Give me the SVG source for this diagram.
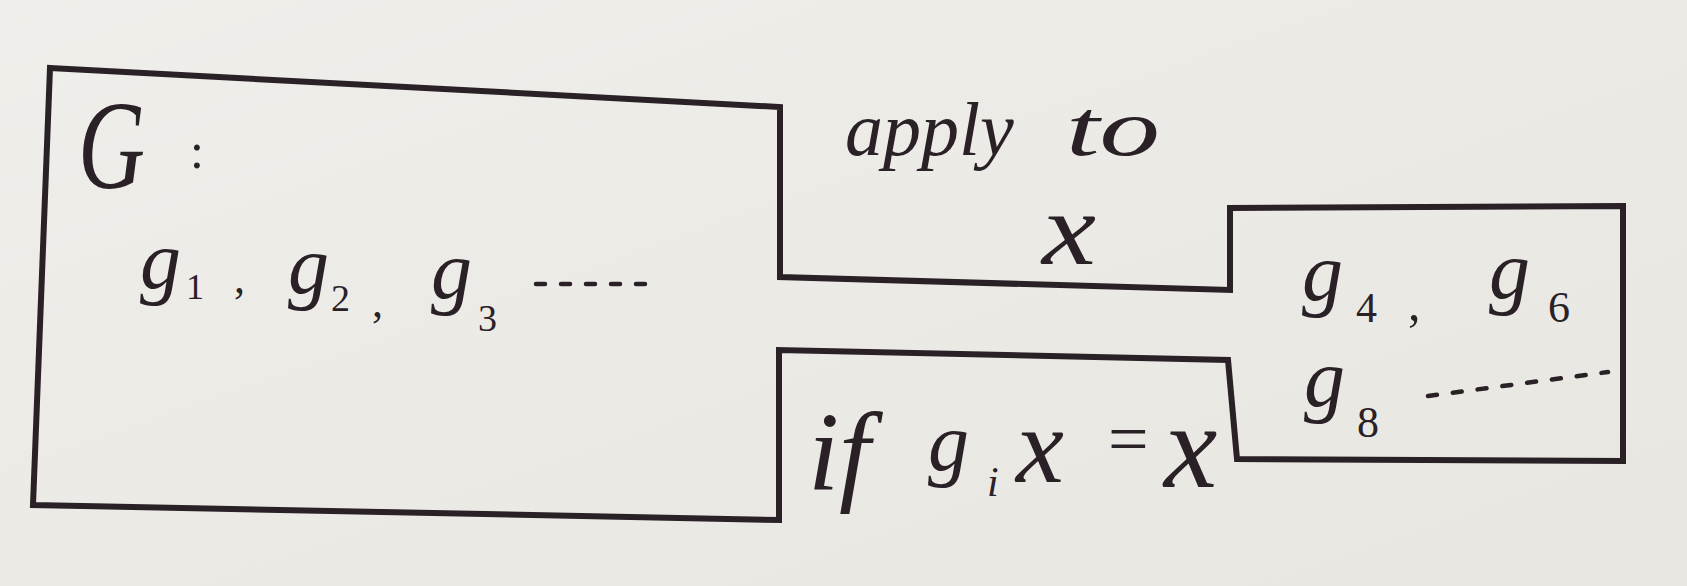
<svg xmlns="http://www.w3.org/2000/svg" width="1687" height="586" viewBox="0 0 1687 586">
<defs>
<linearGradient id="paper" x1="0" y1="0" x2="1" y2="1">
<stop offset="0" stop-color="#efeeea"/>
<stop offset="1" stop-color="#e8e6e1"/>
</linearGradient>
</defs>
<style>
.ink{fill:none;stroke:#2a2127;stroke-width:6;stroke-linejoin:miter;stroke-linecap:square}
.dots{fill:none;stroke:#2a2127;stroke-width:4.5;stroke-linecap:round;stroke-dasharray:9 16}
.h{font-family:"Liberation Serif","DejaVu Serif",serif;font-style:italic;fill:#2a2127}
.g{font-size:82px}
.n{font-family:"Liberation Serif","DejaVu Serif",serif;fill:#2a2127}
</style>
<rect x="0" y="0" width="1687" height="586" fill="url(#paper)"/>
<g id="outline">
<path class="ink" d="M50,68 L780,107 L780,277 L1230,290 L1230,208 L1623,206 L1623,461 L1237,459 L1228,360 L779,350 L779,520 L33,505 Z"/>
</g>
<g id="group-G">
<text class="h" x="78" y="188" font-size="128" textLength="67" lengthAdjust="spacingAndGlyphs">G</text>
<text class="n" x="190" y="168" font-size="50">:</text>
<text class="h g" x="140" y="288">g</text>
<text class="n" x="186" y="299" font-size="36">1</text>
<text class="n" x="234" y="293" font-size="44">,</text>
<text class="h g" x="288" y="293">g</text>
<text class="n" x="331" y="311" font-size="38">2</text>
<text class="n" x="372" y="317" font-size="44">,</text>
<text class="h g" x="431" y="298">g</text>
<text class="n" x="478" y="331" font-size="38">3</text>
<path class="dots" d="M536,284 L658,284"/>
</g>
<g id="apply-label">
<text class="h" x="845" y="155" font-size="76">apply</text>
<text class="h" x="1066" y="155" font-size="80" textLength="94" lengthAdjust="spacingAndGlyphs">to</text>
<text class="h" x="1042" y="264" font-size="104" textLength="54" lengthAdjust="spacingAndGlyphs">x</text>
</g>
<g id="condition-label">
<text class="h" x="808" y="490" font-size="112">if</text>
<text class="h g" x="928" y="470">g</text>
<text class="h" x="987" y="496" font-size="42">i</text>
<text class="h" x="1016" y="482" font-size="108">x</text>
<text class="n" x="1108" y="463" font-size="72">=</text>
<text class="h" x="1164" y="487" font-size="120">x</text>
</g>
<g id="group-right">
<text class="h g" x="1302" y="300">g</text>
<text class="n" x="1356" y="322" font-size="42">4</text>
<text class="n" x="1408" y="320" font-size="50">,</text>
<text class="h g" x="1489" y="298">g</text>
<text class="n" x="1548" y="322" font-size="44">6</text>
<text class="h g" x="1304" y="406">g</text>
<text class="n" x="1357" y="437" font-size="44">8</text>
<path class="dots" d="M1428,396 L1608,372"/>
</g>
</svg>
